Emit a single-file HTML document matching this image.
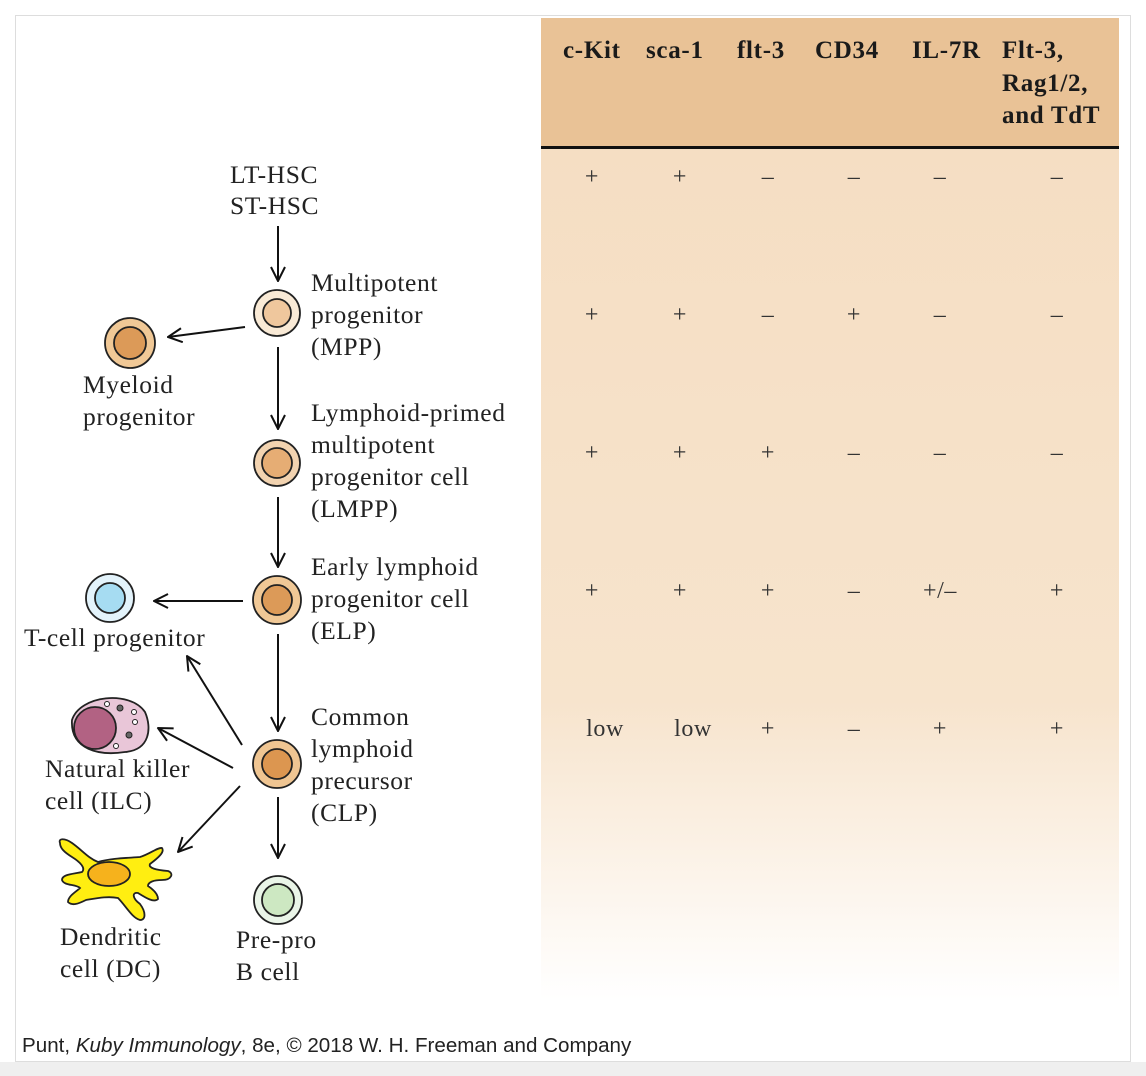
<!DOCTYPE html>
<html><head><meta charset="utf-8"><style>
html,body{margin:0;padding:0;background:#fff}
svg{display:block}
.s{font-family:"Liberation Serif",serif;font-size:25.5px;letter-spacing:0.6px;fill:#222}
.h{font-family:"Liberation Serif",serif;font-size:25px;letter-spacing:0.7px;font-weight:bold;fill:#1a1a1a}
.v{font-family:"Liberation Serif",serif;font-size:24px;letter-spacing:0.6px;fill:#333;text-anchor:middle}
</style></head><body>
<svg width="1146" height="1076" viewBox="0 0 1146 1076" xmlns="http://www.w3.org/2000/svg">
<defs>
<linearGradient id="g" x1="0" y1="0" x2="0" y2="1">
<stop offset="0" stop-color="#f5dec3"/><stop offset="0.65" stop-color="#f7e4cd"/><stop offset="1" stop-color="#ffffff"/>
</linearGradient>
<marker id="a" viewBox="0 0 16 16" refX="15" refY="8" markerWidth="16" markerHeight="16" markerUnits="userSpaceOnUse" orient="auto">
<path d="M1,1 L15,8 L1,15" fill="none" stroke="#111" stroke-width="2"/></marker>
</defs>
<rect x="0" y="0" width="1146" height="1076" fill="#fff"/>
<rect x="15.5" y="15.5" width="1115" height="1046" fill="#fff" stroke="#ddd"/>
<rect x="0" y="1062" width="1146" height="14" fill="#efefef"/>
<rect x="541" y="18" width="578" height="130" fill="#e9c296"/>
<rect x="541" y="148" width="578" height="852" fill="url(#g)"/>
<rect x="541" y="146" width="578" height="3" fill="#111"/>
<g class="h">
<text x="563" y="58">c-Kit</text><text x="646" y="58">sca-1</text><text x="737" y="58">flt-3</text>
<text x="815" y="58">CD34</text><text x="912" y="58">IL-7R</text>
<text x="1002" y="58">Flt-3,</text><text x="1002" y="91">Rag1/2,</text><text x="1002" y="123">and TdT</text>
</g>
<g class="v">
<text x="592" y="184">+</text><text x="680" y="184">+</text><text x="768" y="184">–</text><text x="854" y="184">–</text><text x="940" y="184">–</text><text x="1057" y="184">–</text>
<text x="592" y="322">+</text><text x="680" y="322">+</text><text x="768" y="322">–</text><text x="854" y="322">+</text><text x="940" y="322">–</text><text x="1057" y="322">–</text>
<text x="592" y="460">+</text><text x="680" y="460">+</text><text x="768" y="460">+</text><text x="854" y="460">–</text><text x="940" y="460">–</text><text x="1057" y="460">–</text>
<text x="592" y="598">+</text><text x="680" y="598">+</text><text x="768" y="598">+</text><text x="854" y="598">–</text><text x="940" y="598">+/–</text><text x="1057" y="598">+</text>
<text x="605" y="736">low</text><text x="693" y="736">low</text><text x="768" y="736">+</text><text x="854" y="736">–</text><text x="940" y="736">+</text><text x="1057" y="736">+</text>
</g>
<g stroke="#111" stroke-width="2" fill="none" marker-end="url(#a)">
<line x1="278" y1="226" x2="278" y2="281"/>
<line x1="245" y1="327" x2="168" y2="337"/>
<line x1="278" y1="347" x2="278" y2="429"/>
<line x1="278" y1="497" x2="278" y2="567"/>
<line x1="243" y1="601" x2="154" y2="601"/>
<line x1="278" y1="634" x2="278" y2="731"/>
<line x1="242" y1="745" x2="187" y2="656"/>
<line x1="233" y1="768" x2="158" y2="728"/>
<line x1="240" y1="786" x2="178" y2="852"/>
<line x1="278" y1="797" x2="278" y2="858"/>
</g>
<g stroke="#222" stroke-width="1.8">
<circle cx="277" cy="313" r="23" fill="#f9ead6"/><circle cx="277" cy="313" r="14" fill="#efc79d"/>
<circle cx="130" cy="343" r="25" fill="#f0c896"/><circle cx="130" cy="343" r="16" fill="#dc9a58"/>
<circle cx="277" cy="463" r="23" fill="#f2d3b0"/><circle cx="277" cy="463" r="15" fill="#e6ad74"/>
<circle cx="277" cy="600" r="24" fill="#f0c896"/><circle cx="277" cy="600" r="15" fill="#dc9a58"/>
<circle cx="110" cy="598" r="24" fill="#e3f3fb"/><circle cx="110" cy="598" r="15" fill="#a6dcf2"/>
<circle cx="277" cy="764" r="24" fill="#efc592"/><circle cx="277" cy="764" r="15" fill="#dc9650"/>
<circle cx="278" cy="900" r="24" fill="#eaf5e8"/><circle cx="278" cy="900" r="16" fill="#cde8c2"/>
<path d="M72,720 C80,695 130,690 145,712 C152,728 150,750 125,752 C100,756 70,750 72,720Z" fill="#e9c6d8"/>
<ellipse cx="95" cy="728" rx="21" ry="21" fill="#b26283"/>
<circle cx="107" cy="704" r="2.5" fill="#fff" stroke-width="1"/><circle cx="120" cy="708" r="3" fill="#666" stroke-width="1"/>
<circle cx="134" cy="712" r="2.5" fill="#fff" stroke-width="1"/><circle cx="135" cy="722" r="2.5" fill="#fff" stroke-width="1"/>
<circle cx="129" cy="735" r="3" fill="#666" stroke-width="1"/><circle cx="116" cy="746" r="2.5" fill="#fff" stroke-width="1"/>
<path d="M60,843 C58,838 65,838 72,843 C82,850 88,858 98,862 C112,858 128,858 140,857 C150,854 158,847 162,848 C165,852 158,858 150,864 C148,868 156,870 168,871 C174,873 172,880 162,880 C154,880 148,882 148,886 C154,890 158,894 158,899 C154,903 146,898 138,893 C132,892 132,898 140,904 C146,912 146,920 140,920 C132,918 126,906 118,898 C108,896 98,898 86,900 C78,904 72,906 68,902 C68,896 76,892 80,888 C76,884 64,886 62,880 C62,874 74,874 82,872 C86,868 80,862 72,857 C64,852 60,848 60,843Z" fill="#ffee11"/>
<ellipse cx="109" cy="874" rx="21" ry="12" fill="#f6b21c"/>
</g>
<g class="s">
<text x="230" y="183">LT-HSC</text><text x="230" y="214">ST-HSC</text>
<text x="311" y="291">Multipotent</text><text x="311" y="323">progenitor</text><text x="311" y="355">(MPP)</text>
<text x="83" y="393">Myeloid</text><text x="83" y="425">progenitor</text>
<text x="311" y="421">Lymphoid-primed</text><text x="311" y="453">multipotent</text><text x="311" y="485">progenitor cell</text><text x="311" y="517">(LMPP)</text>
<text x="311" y="575">Early lymphoid</text><text x="311" y="607">progenitor cell</text><text x="311" y="639">(ELP)</text>
<text x="24" y="646">T-cell progenitor</text>
<text x="311" y="725">Common</text><text x="311" y="757">lymphoid</text><text x="311" y="789">precursor</text><text x="311" y="821">(CLP)</text>
<text x="45" y="777">Natural killer</text><text x="45" y="809">cell (ILC)</text>
<text x="60" y="945">Dendritic</text><text x="60" y="977">cell (DC)</text>
<text x="236" y="948">Pre-pro</text><text x="236" y="980">B cell</text>
</g>
<text x="22" y="1052" font-family="'Liberation Sans',sans-serif" font-size="20.6" fill="#222">Punt, <tspan font-style="italic">Kuby Immunology</tspan>, 8e, © 2018 W. H. Freeman and Company</text>
</svg>
</body></html>
